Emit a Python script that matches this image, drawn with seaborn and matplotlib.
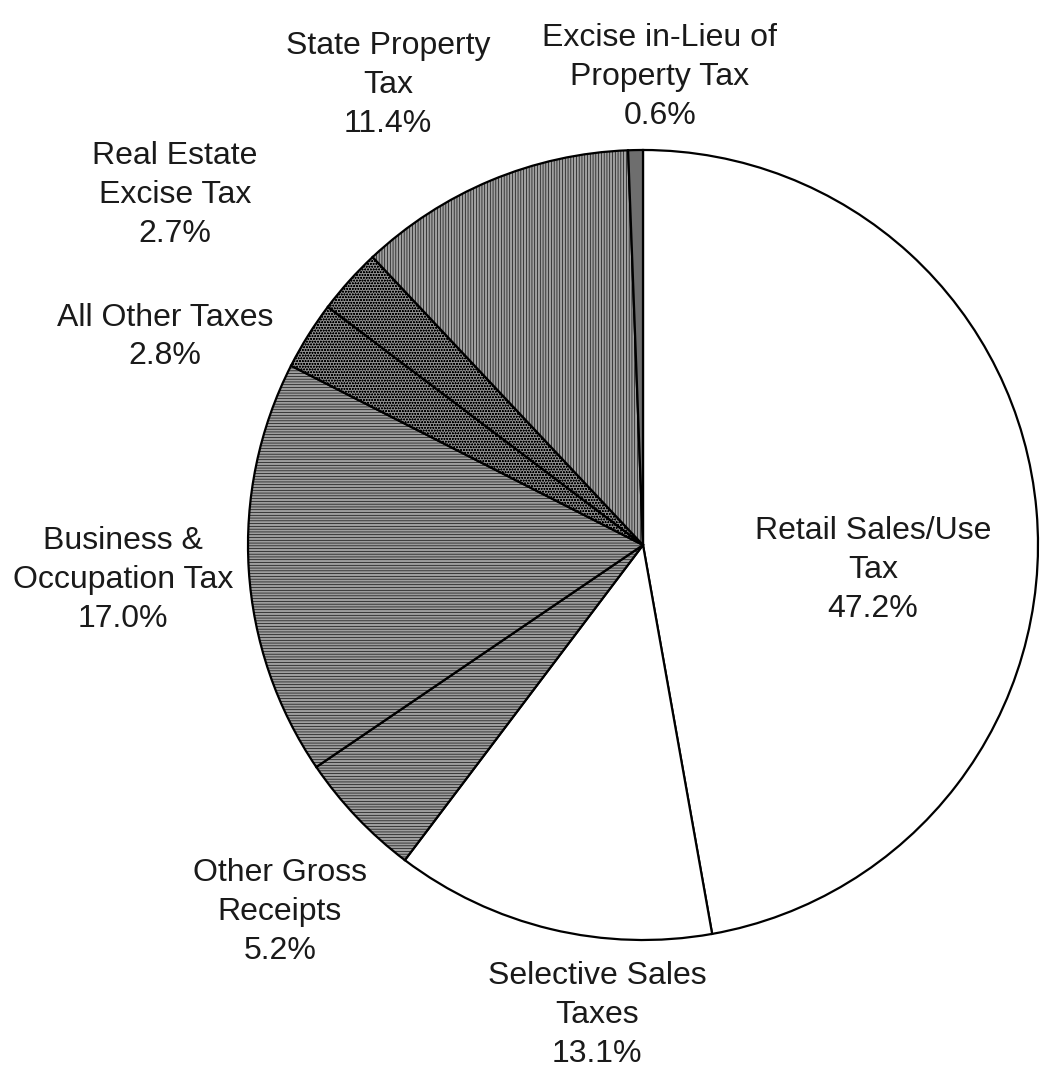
import matplotlib.pyplot as plt
import seaborn as sns

sns.set_style("white")
plt.rcParams['font.family'] = ['Liberation Sans', 'DejaVu Sans']
plt.rcParams['hatch.linewidth'] = 0.45

# data, clockwise from 12 o'clock
categories = ["Retail Sales/Use\nTax", "Selective Sales\nTaxes", "Other Gross\nReceipts",
              "Business &\nOccupation Tax", "All Other Taxes", "Real Estate\nExcise Tax",
              "State Property\nTax", "Excise in-Lieu of\nProperty Tax"]
shares = [47.2, 13.1, 5.2, 17.0, 2.8, 2.7, 11.4, 0.6]
fills = ["white", "white", "#9e9e9e", "#9e9e9e", "#8c8c8c", "#8c8c8c", "#a0a0a0", "#6e6e6e"]
hatches = [None, None, "------", "------", "oooooo", "oooooo", "||||||", None]

# where each label sits (pixels in the image, top-left origin)
label_xy = [(873, 570), (597, 1015), (280, 912), (123, 580),
            (165, 337), (175, 195), (388, 85), (660, 77)]

W, H = 1047, 1078
fig = plt.figure(figsize=(W / 100, H / 100), dpi=100)
ax = fig.add_axes([0, 0, 1, 1])

wedges, _ = ax.pie(shares, startangle=90, counterclock=False, colors=fills,
                   center=(643, H - 545), radius=395, frame=True,
                   wedgeprops=dict(edgecolor="black", linewidth=1.6))
for w, h in zip(wedges, hatches):
    if h:
        w.set_hatch(h)
ax.set_xlim(0, W)
ax.set_ylim(0, H)
ax.set_aspect("equal")
ax.axis("off")

for name, val, (px, py) in zip(categories, shares, label_xy):
    ax.text(px, H - py, f"{name}\n{val:.1f}%", ha="center", va="center",
            fontsize=23, linespacing=1.38, color="#1a1a1a")

fig.savefig("out.png", dpi=100, facecolor="white")
